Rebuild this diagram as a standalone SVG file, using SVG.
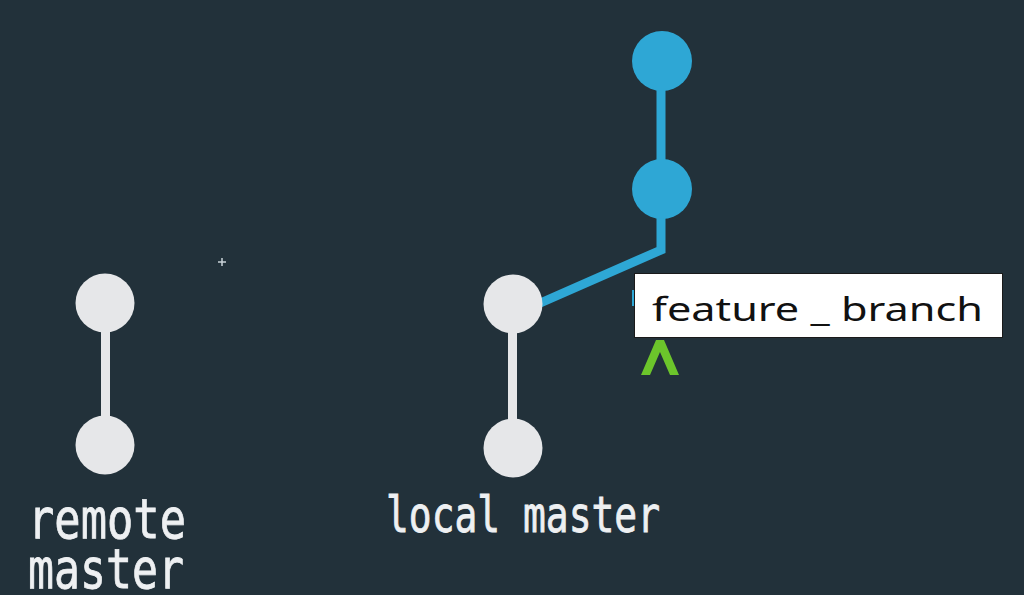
<svg xmlns="http://www.w3.org/2000/svg" width="1024" height="595" viewBox="0 0 1024 595">
<style>
.gray{fill:#e6e7e9}
.blue{fill:#2ea7d5}
.glink{stroke:#e6e7e9;stroke-width:9;fill:none}
.blink{stroke:#2ea7d5;stroke-width:9;fill:none;stroke-linejoin:miter}
.lbl{font-family:"DejaVu Sans Mono","Liberation Mono",monospace;fill:#eef0f2;stroke:#eef0f2;stroke-width:0.8}
.tag{font-family:"Noto Sans","Liberation Sans",sans-serif;fill:#111;font-size:33px}
</style>
<rect width="1024" height="595" fill="#22313a"/>
<g id="connectors">
<line class="glink" x1="105.5" y1="303" x2="105.5" y2="445"/>
<line class="glink" x1="512.5" y1="304" x2="512.5" y2="447"/>
<polyline class="blink" points="661,61 661,250 513,315"/>
</g>
<g id="remote-top"><circle class="gray" cx="105" cy="303" r="29.5"/></g>
<g id="remote-bottom"><circle class="gray" cx="105" cy="445" r="29.5"/></g>
<g id="local-top"><circle class="gray" cx="513" cy="304" r="29.5"/></g>
<g id="local-bottom"><circle class="gray" cx="513" cy="448" r="29.5"/></g>
<g id="feature-1"><circle class="blue" cx="662" cy="189" r="30"/></g>
<g id="feature-2"><circle class="blue" cx="662" cy="61" r="30"/></g>
<g id="label-remote">
<text class="lbl" x="28" y="538" font-size="55" textLength="158" lengthAdjust="spacingAndGlyphs">remote</text>
<text class="lbl" x="28" y="588" font-size="55" textLength="156" lengthAdjust="spacingAndGlyphs">master</text>
</g>
<g id="label-local">
<text class="lbl" x="386" y="532" font-size="49" textLength="274" lengthAdjust="spacingAndGlyphs">local master</text>
</g>
<g id="feature-label">
<rect x="632" y="290" width="4" height="16" fill="#2ea7d5"/>
<rect x="634.5" y="273.5" width="368" height="64" fill="#ffffff" stroke="#1a1a1a" stroke-width="1"/>
<text class="tag" x="652" y="321" textLength="331" lengthAdjust="spacingAndGlyphs">feature _ branch</text>
<polygon points="641,375 656,340 664,340 679,375 670,375 660,352 650,375" fill="#6cc52b"/>
</g>
<g id="cursor">
<path d="M222 258v8M218 262h8" stroke="#c9d2d8" stroke-width="1.5"/>
</g>
</svg>
